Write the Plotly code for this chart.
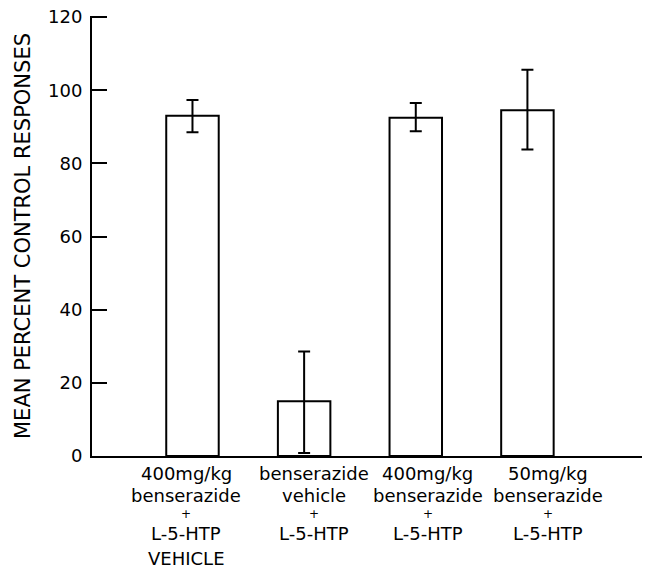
import plotly.graph_objects as go

category_lines = [
    ["400mg/kg", "benserazide", "+", "L-5-HTP", "VEHICLE"],
    ["benserazide", "vehicle", "+", "L-5-HTP"],
    ["400mg/kg", "benserazide", "+", "L-5-HTP"],
    ["50mg/kg", "benserazide", "+", "L-5-HTP"],
]
positions = [1, 2, 3, 4]
means = [93.0, 15.0, 92.5, 94.5]
upper = [97.3, 28.6, 96.5, 105.6]
lower = [88.5, 0.8, 88.8, 83.8]
y_ticks = [0, 20, 40, 60, 80, 100, 120]

err_plus = [u - m for u, m in zip(upper, means)]
err_minus = [m - l for m, l in zip(means, lower)]

FONT = "DejaVu Sans"
OFF = 8  # page body margin
W, H = 650 - OFF, 571 - OFF
M_L, M_R, M_T = 92 - OFF, 2, 16 - OFF
PLOT_BOTTOM = 456 - OFF
M_B = H - PLOT_BOTTOM
PLOT_H = PLOT_BOTTOM - M_T
LINE_PX = [473, 495, 514, 533, 558]  # window pixel centers of label lines
LINE_SIZE = [18, 18, 12, 18, 18]
BLOCK_XSHIFT = [-6, 10, 12, 21]

fig = go.Figure()
fig.add_trace(go.Bar(
    x=positions, y=means, width=0.47,
    marker=dict(color="white", line=dict(color="black", width=2)),
    error_y=dict(type="data", symmetric=False, array=err_plus, arrayminus=err_minus,
                 color="black", thickness=2, width=6),
    showlegend=False,
))

annotations = []
for pos, lines, xs in zip(positions, category_lines, BLOCK_XSHIFT):
    for i, txt in enumerate(lines):
        py = LINE_PX[i] - OFF
        annotations.append(dict(
            x=pos, xref="x", xshift=xs, y=-(py - PLOT_BOTTOM) / PLOT_H, yref="paper",
            text=txt, showarrow=False, xanchor="center", yanchor="middle",
            font=dict(family=FONT, size=LINE_SIZE[i], color="black"),
        ))

fig.update_layout(
    width=W, height=H,
    margin=dict(l=M_L, r=M_R, t=M_T, b=M_B),
    plot_bgcolor="white", paper_bgcolor="white",
    font=dict(family=FONT, color="black", size=17),
    annotations=annotations,
    xaxis=dict(
        range=[0.1, 5.08], tickvals=positions, showticklabels=False,
        showline=True, linecolor="black", linewidth=2, ticks="",
        showgrid=False, zeroline=False, automargin=False,
    ),
    yaxis=dict(
        range=[0, 120.3], tickvals=y_ticks, ticks="inside", ticklen=15, tickwidth=2,
        tickcolor="black", showline=True, linecolor="black", linewidth=2,
        showgrid=False, zeroline=False, tickfont=dict(size=18, family=FONT),
        ticklabelstandoff=4, automargin=False, ticklabeloverflow="allow",
        title=dict(text="MEAN PERCENT CONTROL RESPONSES", font=dict(size=21, family=FONT), standoff=12),
    ),
)

fig.write_html("out.html")
